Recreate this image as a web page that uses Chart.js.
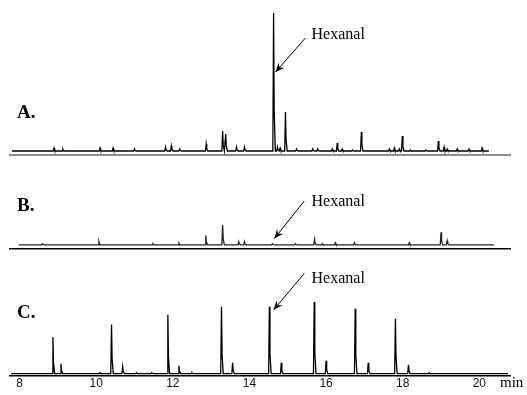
<!DOCTYPE html>
<html>
<head>
<meta charset="utf-8">
<script src="https://cdn.jsdelivr.net/npm/chart.js@4.4.1/dist/chart.umd.min.js"></script>
<style>
  html, body { margin: 0; padding: 0; background: #fff; }
  #fig { position: relative; width: 527px; height: 395px; overflow: hidden; }
  #fig canvas { position: absolute; left: 0; }
</style>
</head>
<body>
<div id="fig">
  <canvas id="chart-a" width="527" height="158" style="top:0px"></canvas>
  <canvas id="chart-b" width="527" height="92" style="top:160px"></canvas>
  <canvas id="chart-c" width="527" height="143" style="top:252px"></canvas>
</div>
<script>
// ── data (retention time in min, detector response) ──
const xTicks = [8, 10, 12, 14, 16, 18, 20];

// A. sample
const runA = [7.80, 20.25];
const peakTimesA   = [8.90, 9.13, 10.10, 10.44, 11.00, 11.81, 11.96, 12.18, 12.87, 13.30, 13.38, 13.66, 13.87, 14.63, 14.73, 14.80, 14.94, 15.23, 15.65, 15.78, 16.16, 16.29, 16.42, 16.69, 16.92, 17.65, 17.78, 17.91, 17.99, 18.20, 18.60, 18.93, 19.08, 19.16, 19.42, 19.73, 20.07];
const peakHeightsA = [3,    2,    3,     3,     2,     4,     5,     2,     7,     20,    17,    4,     4,     138,   4,     3,     39,    2,     2,     2,     2,     8,     2,     1,     19,    2,     3,     2,     15,    1,     1,     10,    4,     2,     2,     2,     3];

// B. sample
const runB = [7.98, 20.38];
const peakTimesB   = [8.60, 10.07, 11.48, 12.16, 12.86, 13.30, 13.72, 13.87, 14.60, 15.20, 15.70, 15.90, 16.24, 16.74, 18.17, 19.00, 19.16];
const peakHeightsB = [1,    3,     1,     1.5,   9,     19,    3,     3,     1,     1,     5,     1,     2,     2,     2,     12,    4];

// C. standards
const runC = [7.78, 20.75];
const peakTimesC   = [8.87, 9.08, 10.10, 10.40, 10.69, 11.05, 11.45, 11.87, 12.16, 12.50, 13.27, 13.56, 14.52, 14.83, 15.69, 16.00, 16.76, 17.10, 17.81, 18.15, 18.69];
const peakHeightsC = [37,   10,   1,     50,    7,     1,     1,     60,    8,     1,     68,    11,    68,    11,    73,    13,    66,    11,    56,    9,     1];

// peak table -> line points (sharp front, short tail)
function buildTrace(run, times, heights) {
  const pts = [{ x: run[0], y: 0 }];
  times.forEach((t, i) => {
    const h = heights[i];
    pts.push({ x: t - 0.02, y: 0 }, { x: t, y: h }, { x: t + 0.015, y: h * 0.3 }, { x: t + 0.045, y: 0 });
  });
  pts.push({ x: run[1], y: 0 });
  return pts;
}

// panel letter + "Hexanal" arrow
const panelDecor = {
  id: 'panelDecor',
  afterDraw(chart) {
    const o = chart.options.plugins.panelDecor;
    if (!o) return;
    const { ctx } = chart;
    const x = chart.scales.x, y = chart.scales.y;
    ctx.save();
    ctx.fillStyle = '#000';
    ctx.strokeStyle = '#000';
    ctx.textBaseline = 'middle';
    ctx.font = 'bold 19px "Liberation Serif"';
    ctx.fillText(o.label, 17, o.labelY);

    const fx = x.getPixelForValue(o.from[0]), fy = y.getPixelForValue(o.from[1]);
    const tx = x.getPixelForValue(o.tip[0]), ty = y.getPixelForValue(o.tip[1]);
    ctx.lineWidth = 1;
    ctx.beginPath();
    ctx.moveTo(fx, fy);
    ctx.lineTo(tx, ty);
    ctx.stroke();
    const ang = Math.atan2(ty - fy, tx - fx);
    ctx.beginPath();
    ctx.moveTo(tx, ty);
    ctx.lineTo(tx - 10 * Math.cos(ang - 0.4), ty - 10 * Math.sin(ang - 0.4));
    ctx.lineTo(tx - 6 * Math.cos(ang), ty - 6 * Math.sin(ang));
    ctx.lineTo(tx - 10 * Math.cos(ang + 0.4), ty - 10 * Math.sin(ang + 0.4));
    ctx.closePath();
    ctx.fill();

    ctx.font = '16px "Liberation Serif"';
    ctx.fillText('Hexanal', x.getPixelForValue(o.text[0]), y.getPixelForValue(o.text[1]));

    if (o.unit) {
      ctx.font = '15px "Liberation Serif"';
      ctx.fillText(o.unit, 500, o.unitY);
    }
    ctx.restore();
  }
};

function makeChart(id, trace, cfg) {
  return new Chart(document.getElementById(id), {
    type: 'line',
    data: {
      datasets: [{
        data: trace,
        borderColor: cfg.color,
        borderWidth: 1.3,
        pointRadius: 0,
        tension: 0,
        clip: false
      }]
    },
    options: {
      responsive: false,
      animation: false,
      events: [],
      layout: { padding: { left: 10, right: 17, top: cfg.top, bottom: cfg.bottom } },
      plugins: {
        legend: { display: false },
        tooltip: { enabled: false },
        panelDecor: cfg.decor
      },
      scales: {
        x: {
          type: 'linear',
          min: 7.75,
          max: 20.8,
          grid: { display: false, drawTicks: false },
          border: { display: true, color: cfg.axisColor, width: cfg.axisWidth },
          afterBuildTicks: s => { s.ticks = xTicks.map(v => ({ value: v })); },
          ticks: {
            display: !!cfg.ticks,
            padding: 1,
            color: '#111',
            font: { family: '"Liberation Sans"', size: 12 },
            maxRotation: 0
          }
        },
        y: { display: false, min: cfg.yMin, max: cfg.yMax }
      }
    },
    plugins: [panelDecor]
  });
}

makeChart('chart-a', buildTrace(runA, peakTimesA, peakHeightsA), {
  color: '#000', top: 13, bottom: 3, yMin: -4, yMax: 138,
  axisColor: '#8c8c8c', axisWidth: 2,
  decor: { label: 'A.', labelY: 113, text: [15.62, 116], from: [15.46, 113], tip: [14.68, 79] }
});

makeChart('chart-b', buildTrace(runB, peakTimesB, peakHeightsB), {
  color: '#222', top: 65, bottom: 3, yMin: -4, yMax: 19,
  axisColor: '#000', axisWidth: 1.5,
  decor: { label: 'B.', labelY: 46, text: [15.62, 41], from: [15.43, 42], tip: [14.65, 6] }
});

makeChart('chart-c', buildTrace(runC, peakTimesC, peakHeightsC), {
  color: '#000', top: 48, bottom: 3, yMin: -2, yMax: 75, ticks: true,
  axisColor: '#000', axisWidth: 1.5,
  decor: { label: 'C.', labelY: 61, text: [15.62, 97], from: [15.43, 102], tip: [14.63, 65], unit: 'min', unitY: 131 }
});
</script>
</body>
</html>
